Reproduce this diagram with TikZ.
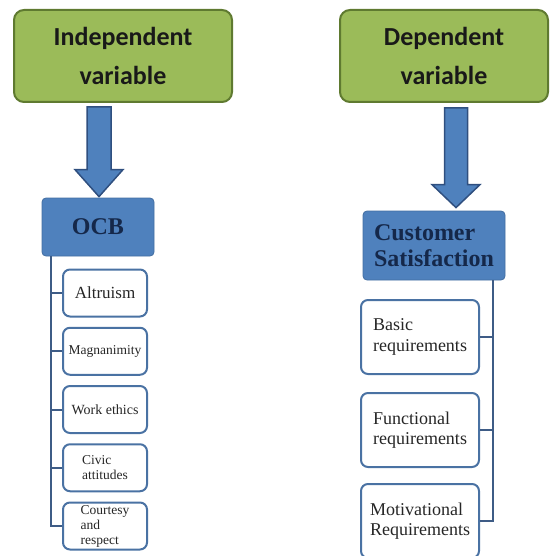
\documentclass[tikz,border=0pt]{standalone}
\usepackage{fontspec}
\setmainfont{Liberation Serif}
\newfontfamily\calibri{Carlito}
\usetikzlibrary{positioning,calc}
\definecolor{greenfill}{HTML}{9BBB59}
\definecolor{greenline}{HTML}{5F7A30}
\definecolor{bluefill}{HTML}{4F81BD}
\definecolor{blueline}{HTML}{2F4F7F}
\definecolor{navytext}{HTML}{15284A}
\definecolor{leafline}{HTML}{4A72A3}
\definecolor{trunkcol}{HTML}{3E5C86}
\definecolor{inktext}{HTML}{262626}
\tikzset{
  varbox/.style={draw=greenline, fill=greenfill, line width=2pt, rounded corners=10pt,
    minimum height=92pt, align=center, text=black!90,
    font=\calibri\bfseries\fontsize{26}{39}\selectfont},
  headbox/.style={draw=bluefill!85!black, fill=bluefill, line width=0.8pt, rounded corners=4pt,
    align=left, text=navytext, font=\bfseries\fontsize{24}{26}\selectfont},
  leafbox/.style={draw=leafline, fill=white, line width=2pt, rounded corners=7pt,
    minimum width=84pt, minimum height=47pt, align=left, inner sep=2pt, text=inktext},
  bigleaf/.style={leafbox, minimum width=118pt, minimum height=74pt,
    font=\fontsize{18}{20.5}\selectfont},
  trunk/.style={draw=trunkcol, line width=2pt},
  fatarrow/.style={draw=blueline, fill=bluefill, line width=1.5pt, line join=miter}
}
\begin{document}
\begin{tikzpicture}[x=1pt, y=-1pt]
    \useasboundingbox (0,0) rectangle (550,556);

    \node[varbox, minimum width=218pt] (indep) at (123,56) {Independent\\variable};
    \node[varbox, minimum width=208pt] (dep) at (444,56) {Dependent\\variable};

    \node[headbox, minimum width=112pt, minimum height=58pt] (ocb) at (98,227) {OCB};
    \node[headbox, minimum width=142pt, minimum height=69pt] (cs) at (434,245.5) {Customer\\Satisfaction};

    % left branch
    \node[leafbox, font=\fontsize{17}{19}\selectfont] (alt) at (105,293) {Altruism};
    \node[leafbox, below=9.25pt of alt, font=\fontsize{13.5}{15}\selectfont] (mag) {Magnanimity};
    \node[leafbox, below=9.25pt of mag, font=\fontsize{14}{16}\selectfont] (work) {Work ethics};
    \node[leafbox, below=9.25pt of work, font=\fontsize{13.5}{15}\selectfont] (civic) {Civic\\attitudes};
    \node[leafbox, below=9.25pt of civic, inner ysep=0pt, font=\fontsize{13.5}{15}\selectfont] (court) {Courtesy\\and\\respect};

    % right branch
    \node[bigleaf] (basic) at (420,337) {Basic\\requirements};
    \node[bigleaf, below=17pt of basic] (func) {Functional\\requirements};
    \node[bigleaf, below=15pt of func] (motiv) {Motivational\\Requirements};

    \foreach \leaf in {alt,mag,work,civic,court}
      \draw[trunk] ([xshift=9pt]ocb.south west) |- (\leaf.west);
    \foreach \leaf in {basic,func,motiv}
      \draw[trunk] ([xshift=-12pt]cs.south east) |- (\leaf.east);

    % block arrows
    \draw[fatarrow] let \p1=([xshift=-24pt,yshift=-4pt]indep.south), \p2=(ocb.north) in
      (\x1-12pt,\y1) -- (\x1-12pt,\y2+28pt) -- (\x1-24pt,\y2+28pt) -- (\x1,\y2+1pt)
      -- (\x1+24pt,\y2+28pt) -- (\x1+12pt,\y2+28pt) -- (\x1+12pt,\y1) -- cycle;
    \draw[fatarrow] let \p1=([xshift=12pt,yshift=-5pt]dep.south), \p2=(cs.north) in
      (\x1-11.5pt,\y1) -- (\x1-11.5pt,\y2+26pt) -- (\x1-24pt,\y2+26pt) -- (\x1,\y2+3pt)
      -- (\x1+24pt,\y2+26pt) -- (\x1+11.5pt,\y2+26pt) -- (\x1+11.5pt,\y1) -- cycle;
  \end{tikzpicture}
\end{document}
